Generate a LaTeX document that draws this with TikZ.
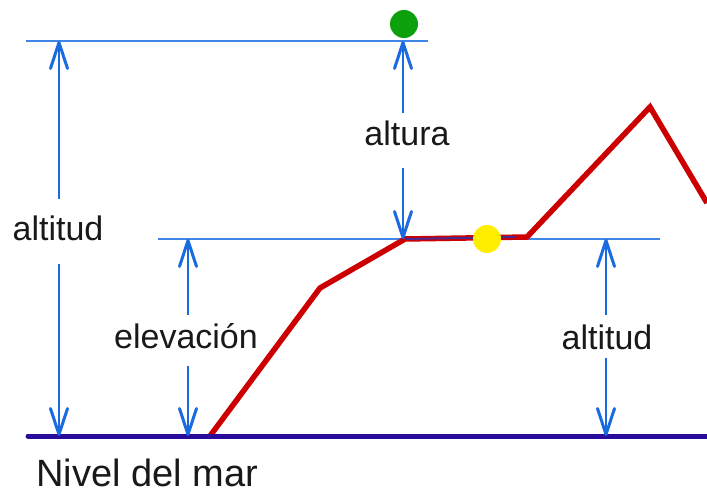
\documentclass[tikz,border=0pt]{standalone}
\usepackage{fontspec}
\setmainfont{Liberation Sans}
\usetikzlibrary{arrows.meta}
\definecolor{lineblue}{HTML}{3F86E8}
\definecolor{arrowblue}{HTML}{1A6AE0}
\definecolor{seablue}{HTML}{2A0C9C}
\definecolor{profred}{HTML}{CC0000}
\definecolor{overlap}{HTML}{4A2A90}
\definecolor{dotgreen}{HTML}{0CA00C}
\definecolor{dotyellow}{HTML}{FFEE00}
\tikzset{
  hline/.style={draw=lineblue, line width=2.5pt},
  dimarrow/.style={draw=arrowblue, line width=2.2pt,
    -{Straight Barb[length=26pt,width=17pt,line width=3pt,round]}},
  lab/.style={font=\fontsize{34}{40}\selectfont, anchor=base, inner sep=0pt, text=black!90},
  dot/.style={circle, inner sep=0pt, minimum size=28pt},
}
\begin{document}
\begin{tikzpicture}[x=1pt,y=-1pt]
\useasboundingbox (0,0) rectangle (707,492);
% reference lines
\coordinate (TL) at (26,41);
\coordinate (TR) at (428,41);
\coordinate (ML) at (158,239);
\coordinate (MR) at (660,239);
\coordinate (SL) at (28,436);
\coordinate (SR) at (707,436);
\draw[hline] (TL) -- (TR);
\draw[hline] (ML) -- (MR);
% terrain profile
\coordinate (P0) at (210,436);
\coordinate (P1) at (320,288);
\coordinate (P2) at (405,239);
\coordinate (P3) at (527,237);
\coordinate (P4) at (650,107);
\coordinate (P5) at (707,203);
\draw[draw=profred, line width=5.5pt, line join=miter] (P0) -- (P1) -- (P2) -- (P3) -- (P4) -- (P5);
\draw[draw=overlap, line width=2pt] (P2) -- ([xshift=-12pt]P3);
% sea level
\draw[draw=seablue, line width=5pt, line cap=round] (SL) -- (SR);
% dots
\node[dot, fill=dotgreen] (gdot) at (404,24) {};
\node[dot, fill=dotyellow] (ydot) at (487,239) {};
% labels
\node[lab] (altL) at (58,240) {altitud};
\node[lab] (altura) at (407,146) {altura};
\node[lab] (elev) at (186,348) {elevación};
\node[lab] (altR) at (607,349) {altitud};
\node[lab, anchor=base west, font=\fontsize{38}{44}\selectfont] (nivel) at (36,486) {Nivel del mar};
% dimension arrows
\coordinate (a1t) at (59,41);  \coordinate (a1u) at (59,199);
\coordinate (a1d) at (59,264); \coordinate (a1b) at (59,436);
\draw[dimarrow] (a1u) -- (a1t);
\draw[dimarrow] (a1d) -- (a1b);
\coordinate (a2t) at (403,41);  \coordinate (a2u) at (403,113);
\coordinate (a2d) at (403,168); \coordinate (a2b) at (403,239);
\draw[dimarrow] (a2u) -- (a2t);
\draw[dimarrow] (a2d) -- (a2b);
\coordinate (a3t) at (188,239);  \coordinate (a3u) at (188,315);
\coordinate (a3d) at (188,366); \coordinate (a3b) at (188,436);
\draw[dimarrow] (a3u) -- (a3t);
\draw[dimarrow] (a3d) -- (a3b);
\coordinate (a4t) at (606,239);  \coordinate (a4u) at (606,315);
\coordinate (a4d) at (606,358); \coordinate (a4b) at (606,436);
\draw[dimarrow] (a4u) -- (a4t);
\draw[dimarrow] (a4d) -- (a4b);
\end{tikzpicture}
\end{document}
